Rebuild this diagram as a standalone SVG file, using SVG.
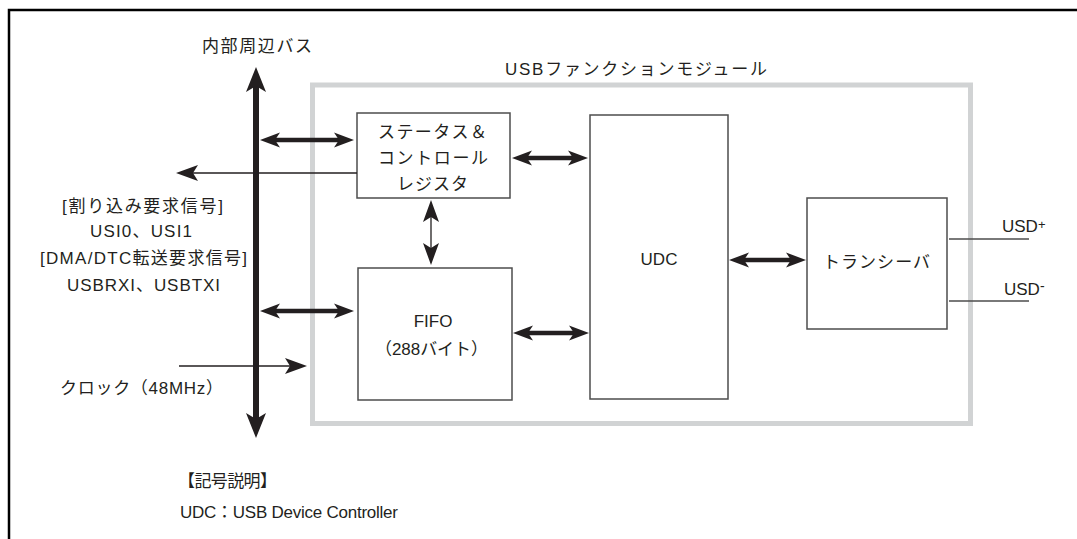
<svg xmlns="http://www.w3.org/2000/svg" width="1077" height="539" viewBox="0 0 1077 539">
  <style>
    text { font-family: "Liberation Sans", "Noto Sans CJK JP", sans-serif; font-size: 17px; fill: #231f20; }
    .box { fill: #ffffff; stroke: #4d4d4d; stroke-width: 1.5; }
    .module { fill: none; stroke: #d1d3d4; stroke-width: 5; }
    .thick { stroke: #231f20; stroke-width: 4.5; fill: none; }
    .thin { stroke: #231f20; stroke-width: 1.3; fill: none; }
    .pin { stroke: #4d4d4d; stroke-width: 1.3; fill: none; }
    .head { fill: #231f20; }
  </style>
  <defs>
    <marker id="mThick" markerUnits="userSpaceOnUse" viewBox="0 -10 20 20" markerWidth="20" markerHeight="20" refX="10" refY="0" orient="auto-start-reverse">
      <path class="head" d="M0,-7.5 L20,0 L0,7.5 L5,0 Z"/>
    </marker>
    <marker id="mBus" markerUnits="userSpaceOnUse" viewBox="0 -10 25 20" markerWidth="25" markerHeight="20" refX="12" refY="0" orient="auto-start-reverse">
      <path class="head" d="M0,-10 L25,0 L0,10 L6,0 Z"/>
    </marker>
    <marker id="mThin" markerUnits="userSpaceOnUse" viewBox="0 -10 22 20" markerWidth="22" markerHeight="20" refX="14" refY="0" orient="auto-start-reverse">
      <path class="head" d="M0,-8 L22,0 L0,8 L5,0 Z"/>
    </marker>
  </defs>

  <rect width="1077" height="539" fill="#ffffff"/>
  <path d="M9,539 V10 H1077" fill="none" stroke="#000000" stroke-width="2.5"/>

  <g id="module">
    <rect class="module" x="312.5" y="85" width="658" height="338.5"/>
    <text x="505" y="75" textLength="262" lengthAdjust="spacing">USBファンクションモジュール</text>
  </g>

  <g id="status-register">
    <rect class="box" x="357" y="113" width="153" height="85"/>
    <text x="378" y="138" textLength="109" lengthAdjust="spacing">ステータス＆</text>
    <text x="378" y="164" textLength="110" lengthAdjust="spacing">コントロール</text>
    <text x="397" y="190" textLength="71" lengthAdjust="spacing">レジスタ</text>
  </g>

  <g id="fifo">
    <rect class="box" x="358" y="268" width="154" height="132"/>
    <text x="433" y="327" text-anchor="middle">FIFO</text>
    <text x="375" y="355" textLength="113" lengthAdjust="spacing">（288バイト）</text>
  </g>

  <g id="udc">
    <rect class="box" x="590" y="115" width="138" height="284"/>
    <text x="659" y="265" text-anchor="middle">UDC</text>
  </g>

  <g id="transceiver">
    <rect class="box" x="807" y="198" width="140" height="131"/>
    <text x="823" y="268" textLength="107" lengthAdjust="spacing">トランシーバ</text>
  </g>

  <g id="bus">
    <text x="202" y="52" textLength="110" lengthAdjust="spacing">内部周辺バス</text>
  </g>

  <g id="connectors">
    <line x1="256" y1="80" x2="256" y2="425" stroke="#231f20" stroke-width="6" marker-start="url(#mBus)" marker-end="url(#mBus)"/>
    <line class="thick" x1="270" y1="140" x2="344" y2="140" marker-start="url(#mThick)" marker-end="url(#mThick)"/>
    <line class="thick" x1="270" y1="311" x2="344" y2="311" marker-start="url(#mThick)" marker-end="url(#mThick)"/>
    <line class="thick" x1="522" y1="158" x2="578" y2="158" marker-start="url(#mThick)" marker-end="url(#mThick)"/>
    <line class="thick" x1="523" y1="333" x2="579" y2="333" marker-start="url(#mThick)" marker-end="url(#mThick)"/>
    <line class="thick" x1="739" y1="260" x2="796" y2="260" marker-start="url(#mThick)" marker-end="url(#mThick)"/>
    <line class="thin" x1="431" y1="208" x2="431" y2="257" stroke-width="1.6" marker-start="url(#mThin)" marker-end="url(#mThin)"/>
    <line class="thin" x1="357" y1="173" x2="184" y2="173" marker-end="url(#mThin)"/>
    <line class="thin" x1="179" y1="366" x2="299" y2="366" marker-end="url(#mThin)"/>
    <line class="pin" x1="949" y1="239" x2="1029" y2="239"/>
    <line class="pin" x1="949" y1="301" x2="1029" y2="301"/>
  </g>

  <g id="signal-labels">
    <text x="62" y="212" textLength="161" lengthAdjust="spacing">[割り込み要求信号]</text>
    <text x="90" y="237" textLength="102" lengthAdjust="spacing">USI0、USI1</text>
    <text x="40" y="264" textLength="207" lengthAdjust="spacing">[DMA/DTC転送要求信号]</text>
    <text x="67" y="291" textLength="153" lengthAdjust="spacing">USBRXI、USBTXI</text>
    <text x="60" y="394" textLength="163" lengthAdjust="spacing">クロック（48MHz）</text>
    <text x="1002" y="232">USD<tspan font-size="13" dy="-3">+</tspan></text>
    <text x="1004" y="295">USD<tspan font-size="14" dy="-4">-</tspan></text>
  </g>

  <g id="legend">
    <text x="178" y="487" textLength="99" lengthAdjust="spacing">【記号説明】</text>
    <text x="180" y="518" textLength="218" lengthAdjust="spacing">UDC：USB Device Controller</text>
  </g>
</svg>
